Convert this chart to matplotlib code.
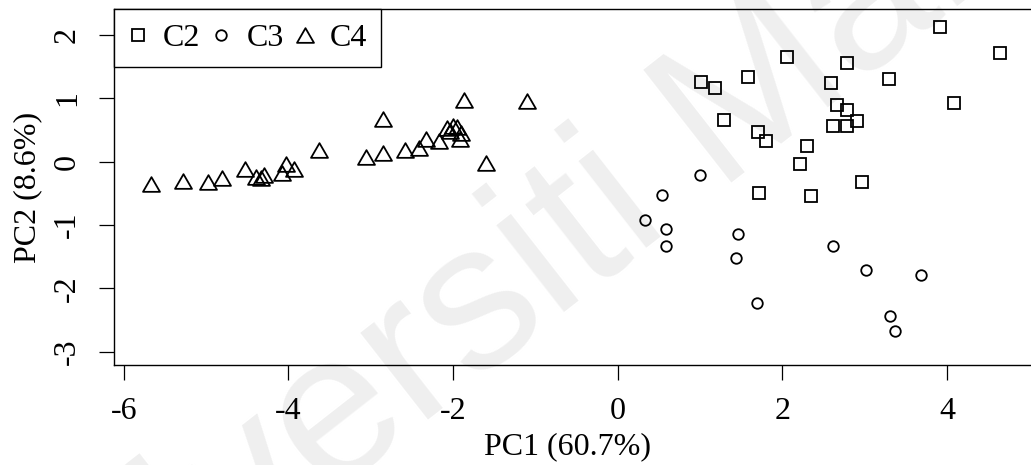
import numpy as np
import matplotlib
matplotlib.use('Agg')
import matplotlib.pyplot as plt
from matplotlib.path import Path

# PCA scores, one group per cluster
c2_pc1 = [3.91, 4.64, 2.06, 2.78, 1.58, 3.30, 1.01, 1.18, 2.59, 4.09, 2.66, 2.78,
          1.29, 2.91, 2.61, 2.78, 1.70, 1.80, 2.30, 2.22, 2.97, 1.72, 2.35]
c2_pc2 = [2.13, 1.71, 1.66, 1.55, 1.33, 1.30, 1.26, 1.16, 1.24, 0.92, 0.89, 0.82,
          0.65, 0.64, 0.57, 0.56, 0.47, 0.32, 0.24, -0.03, -0.32, -0.49, -0.54]

c3_pc1 = [1.00, 0.54, 0.33, 0.59, 0.59, 1.46, 1.44, 2.62, 3.02, 3.68, 1.69, 3.31, 3.37]
c3_pc2 = [-0.21, -0.52, -0.92, -1.06, -1.33, -1.14, -1.52, -1.33, -1.71, -1.79,
          -2.23, -2.44, -2.67]

c4_pc1 = [-5.67, -5.28, -4.98, -4.81, -4.53, -4.39, -4.33, -4.30, -4.08, -4.03,
          -3.93, -3.63, -3.06, -2.85, -2.85, -2.58, -2.41, -2.33, -2.17, -2.08,
          -2.04, -2.00, -1.95, -1.91, -1.92, -1.87, -1.10, -1.60]
c4_pc2 = [-0.35, -0.31, -0.32, -0.26, -0.12, -0.25, -0.26, -0.21, -0.18, -0.04,
          -0.12, 0.18, 0.08, 0.14, 0.68, 0.19, 0.21, 0.35, 0.32, 0.53,
          0.48, 0.56, 0.55, 0.45, 0.35, 0.97, 0.96, -0.02]

group_names = ['C2', 'C3', 'C4']
x_ticks = [-6, -4, -2, 0, 2, 4]
y_ticks = [-3, -2, -1, 0, 1, 2]

plt.rcParams['font.family'] = ['Liberation Serif', 'DejaVu Serif']
plt.rcParams['axes.unicode_minus'] = False

W, H, DPI = 1031, 465, 100
fig = plt.figure(figsize=(W / DPI, H / DPI), dpi=DPI)
fig.patch.set_facecolor('white')

# watermark behind everything
fig.text(590 / W, 1 - 225 / H, 'Universiti Malaya', family='Liberation Sans',
         fontsize=150, color='#efefef', rotation=38, ha='center', va='center',
         zorder=-5)

left, right, top, bottom = 114, 1040, 9, 365
ax = fig.add_axes([left / W, 1 - bottom / H, (right - left) / W, (bottom - top) / H])
ax.patch.set_alpha(0)

# R-like open triangle, centred on its bounding box
tri = Path([(-1, -0.866), (1, -0.866), (0, 0.866), (-1, -0.866)],
           [Path.MOVETO, Path.LINETO, Path.LINETO, Path.CLOSEPOLY])

kw = dict(ls='none', mfc='none', mec='black', mew=1.3)
ax.plot(c2_pc1, c2_pc2, marker='s', ms=9.2, label=group_names[0], **kw)
ax.plot(c3_pc1, c3_pc2, marker='o', ms=7.6, label=group_names[1], **kw)
ax.plot(c4_pc1, c4_pc2, marker=tri, ms=12.2, label=group_names[2], **kw)

ax.set_xlim(-6.12, 5.13)
ax.set_ylim(-3.21, 2.41)
ax.set_xticks(x_ticks)
ax.set_yticks(y_ticks)
ax.tick_params(direction='out', length=11, width=0.9, labelsize=23, color='black')
ax.tick_params(axis='x', pad=12)
ax.tick_params(axis='y', pad=12, labelrotation=90)
for lab in ax.get_yticklabels():
    lab.set_va('center')
for s in ax.spines.values():
    s.set_linewidth(1.0)
    s.set_color('black')

fig.text(567 / W, 1 - 447 / H, 'PC1 (60.7%)', fontsize=23, ha='center', va='center')
fig.text(28 / W, 1 - 187 / H, 'PC2 (8.6%)', fontsize=23, ha='center', va='center',
         rotation=90)

leg = ax.legend(loc='upper left', bbox_to_anchor=(0, 1), borderaxespad=0, ncol=3,
                fontsize=23, handlelength=0.6, handletextpad=0.48, columnspacing=0.36,
                borderpad=0.45, fancybox=False, framealpha=1, edgecolor='black')
leg.get_frame().set_linewidth(1.0)

fig.savefig('out.png', dpi=DPI, facecolor='white')
